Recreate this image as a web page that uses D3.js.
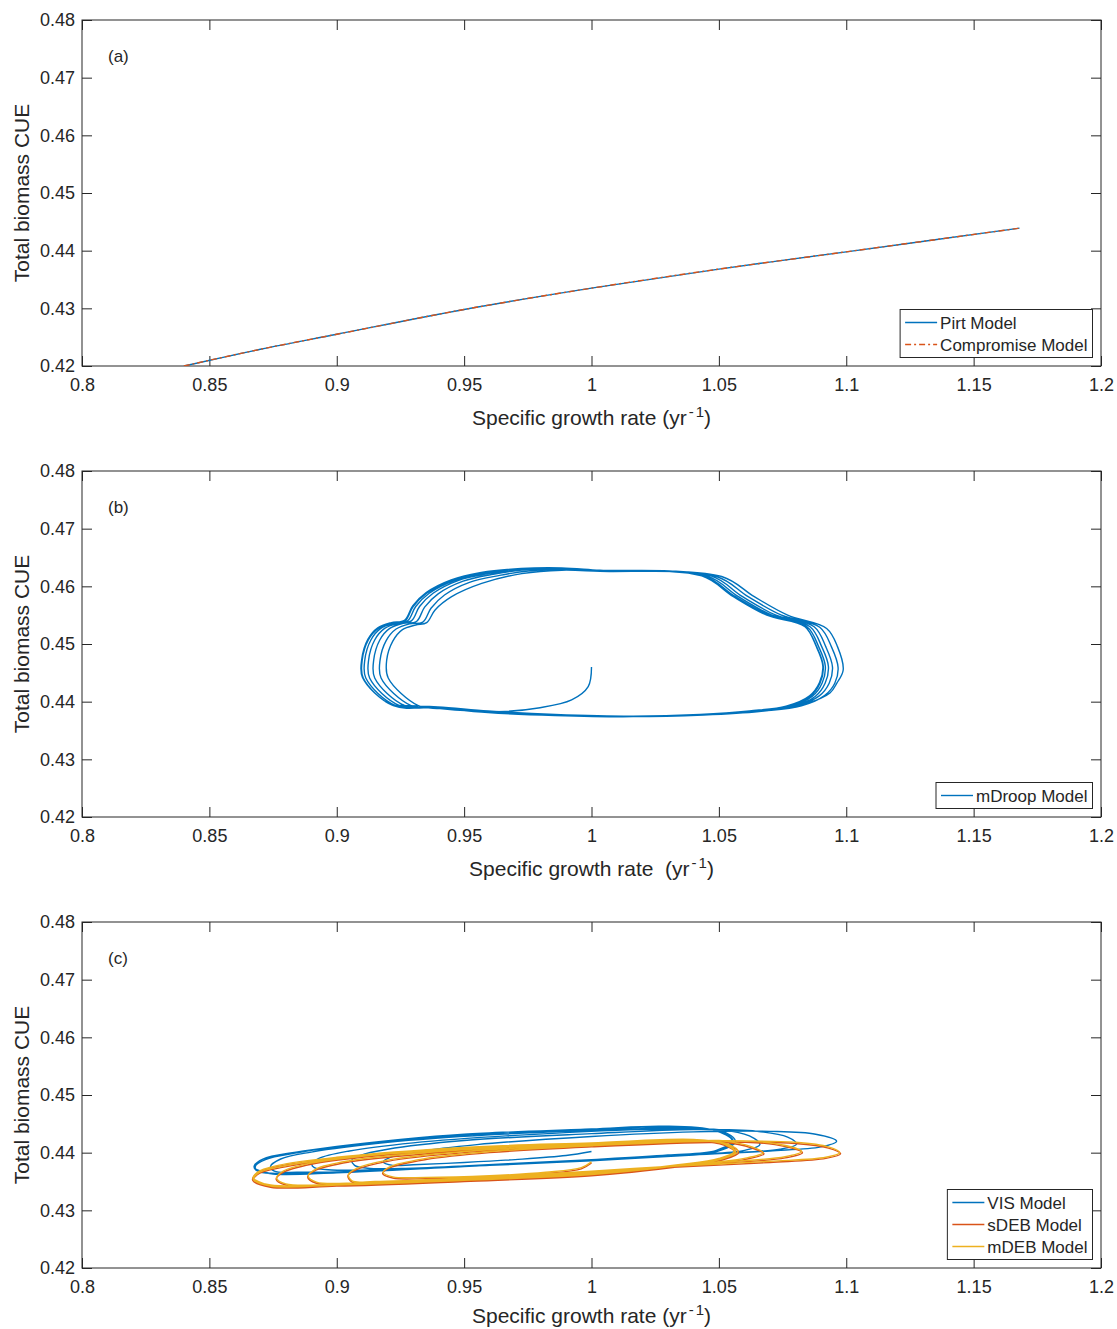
<!DOCTYPE html>
<html>
<head>
  <meta charset="utf-8">
  <style>
    body { margin: 0; background: #fff; }
    svg text { font-family: "Liberation Sans", Arial, Helvetica, sans-serif; fill: #262626; }
    .tick line { stroke: #262626; }
    .domain { display: none; }
  </style>
</head>
<body>
<svg width="1117" height="1329"></svg>
<script src="https://d3js.org/d3.v7.min.js"></script>
<script>

// tick values shared by the three panels
var xTicks = [0.8, 0.85, 0.9, 0.95, 1, 1.05, 1.1, 1.15, 1.2];
var yTicks = [0.42, 0.43, 0.44, 0.45, 0.46, 0.47, 0.48];

// (a) Pirt / Compromise
var pirtX = [0.840, 0.870, 0.900, 0.950, 1.000, 1.050, 1.100, 1.168];
var pirtY = [0.4200, 0.4229, 0.4255, 0.4298, 0.4335, 0.4368, 0.4398, 0.4439];
var compX = [0.840, 0.870, 0.900, 0.950, 1.000, 1.050, 1.100, 1.168];
var compY = [0.4200, 0.4229, 0.4255, 0.4298, 0.4335, 0.4368, 0.4398, 0.4439];

// (b) mDroop trajectory [mu, CUE]
var droop = [
  [1.0000,0.4460],[0.9987,0.4426],[0.9922,0.4403],[0.9791,0.4389],[0.9660,0.4383],[0.9523,0.4384],[0.9405,0.4388],
  [0.9320,0.4393],[0.9202,0.4441],[0.9196,0.4472],[0.9220,0.4505],[0.9258,0.4525],[0.9310,0.4533],[0.9353,0.4537],
  [0.9386,0.4559],[0.9451,0.4582],[0.9569,0.4605],[0.9726,0.4622],[0.9883,0.4628],[1.0033,0.4626],[1.0511,0.4617],
  [1.0639,0.4582],[1.0770,0.4550],[1.0923,0.4527],[1.0966,0.4495],[1.0988,0.4455],[1.0963,0.4432],[1.0936,0.4415],[1.0845,0.4397],
  [1.0700,0.4386],[1.0480,0.4379],[1.0163,0.4374],[0.9857,0.4376],[0.9594,0.4381],[0.9397,0.4389],
  [0.9292,0.4393],[0.9174,0.4441],[0.9170,0.4472],[0.9194,0.4506],[0.9233,0.4526],[0.9286,0.4535],[0.9338,0.4538],
  [0.9370,0.4562],[0.9423,0.4585],[0.9521,0.4607],[0.9639,0.4619],[0.9760,0.4627],[0.9883,0.4630],[1.0033,0.4627],[1.0491,0.4617],
  [1.0615,0.4582],[1.0746,0.4550],[1.0896,0.4529],[1.0942,0.4495],[1.0968,0.4459],[1.0955,0.4432],[1.0916,0.4411],[1.0824,0.4393],
  [1.0680,0.4384],[1.0450,0.4378],[1.0163,0.4374],[0.9857,0.4377],[0.9594,0.4383],[0.9397,0.4390],
  [0.9267,0.4393],[0.9149,0.4441],[0.9145,0.4472],[0.9169,0.4507],[0.9208,0.4527],[0.9261,0.4536],[0.9313,0.4539],
  [0.9345,0.4564],[0.9398,0.4587],[0.9496,0.4609],[0.9614,0.4621],[0.9745,0.4629],[0.9883,0.4631],[1.0033,0.4627],[1.0469,0.4618],
  [1.0593,0.4582],[1.0724,0.4550],[1.0874,0.4530],[1.0920,0.4495],[1.0946,0.4460],[1.0933,0.4432],[1.0894,0.4410],[1.0802,0.4392],
  [1.0658,0.4383],[1.0440,0.4377],[1.0163,0.4374],[0.9857,0.4377],[0.9594,0.4383],[0.9397,0.4390],
  [0.9247,0.4393],[0.9129,0.4441],[0.9125,0.4472],[0.9149,0.4507],[0.9188,0.4527],[0.9241,0.4536],[0.9293,0.4540],
  [0.9325,0.4565],[0.9378,0.4588],[0.9476,0.4610],[0.9594,0.4622],[0.9735,0.4630],[0.9883,0.4631],[1.0033,0.4627],[1.0453,0.4618],
  [1.0577,0.4582],[1.0708,0.4550],[1.0858,0.4530],[1.0904,0.4495],[1.0930,0.4461],[1.0917,0.4432],[1.0878,0.4409],[1.0786,0.4391],
  [1.0642,0.4383],[1.0430,0.4377],[1.0163,0.4374],[0.9857,0.4377],[0.9594,0.4383],[0.9397,0.4390],
  [0.9232,0.4393],[0.9114,0.4441],[0.9110,0.4472],[0.9134,0.4507],[0.9173,0.4527],[0.9226,0.4536],[0.9278,0.4540],
  [0.9310,0.4565],[0.9363,0.4588],[0.9461,0.4610],[0.9579,0.4623],[0.9730,0.4630],[0.9883,0.4631],[1.0033,0.4627],[1.0441,0.4618],
  [1.0565,0.4582],[1.0696,0.4550],[1.0846,0.4530],[1.0892,0.4495],[1.0918,0.4461],[1.0905,0.4432],[1.0866,0.4409],[1.0774,0.4391],
  [1.0630,0.4383],[1.0426,0.4377],[1.0163,0.4374],[0.9857,0.4377],[0.9594,0.4383],[0.9397,0.4390],
  [0.9222,0.4393],[0.9104,0.4441],[0.9100,0.4472],[0.9124,0.4507],[0.9163,0.4527],[0.9216,0.4536],[0.9268,0.4540],
  [0.9300,0.4565],[0.9353,0.4588],[0.9451,0.4610],[0.9569,0.4623],[0.9726,0.4630],[0.9883,0.4631],[1.0033,0.4627],[1.0433,0.4618],
  [1.0557,0.4582],[1.0688,0.4550],[1.0838,0.4530],[1.0884,0.4495],[1.0910,0.4461],[1.0897,0.4432],[1.0858,0.4409],[1.0766,0.4391],
  [1.0622,0.4383],[1.0426,0.4377],[1.0163,0.4374],[0.9857,0.4377],[0.9594,0.4383],[0.9397,0.4390],
  [0.9218,0.4394],[0.9101,0.4442],[0.9098,0.4473],[0.9122,0.4508],[0.9161,0.4528],[0.9214,0.4537],[0.9266,0.4541],
  [0.9298,0.4566],[0.9351,0.4589],[0.9449,0.4611],[0.9567,0.4624],[0.9724,0.4631],[0.9883,0.4632],[1.0033,0.4628],[1.0431,0.4619],
  [1.0555,0.4583],[1.0686,0.4551],[1.0836,0.4531],[1.0882,0.4496],[1.0908,0.4462],[1.0895,0.4433],[1.0856,0.4410],[1.0764,0.4392],
  [1.0620,0.4384],[1.0426,0.4378],[1.0163,0.4375],[0.9857,0.4378],[0.9594,0.4384],[0.9397,0.4391],[0.9220,0.4394]
];

// (c) VIS, sDEB, mDEB trajectories [mu, CUE]
var vis = [
  [1.000,0.4402],[0.990,0.4395],[0.970,0.4388],[0.950,0.4383],[0.930,0.4379],
  [0.922,0.4378],[0.9183,0.4384],[0.921,0.4392],[0.932,0.4402],[0.955,0.4414],[1.000,0.4428],[1.040,0.4436],[1.070,0.4437],[1.088,0.4432],[1.0962,0.4420],[1.090,0.4410],[1.070,0.4403],[1.040,0.4396],[1.000,0.4386],[0.960,0.4378],[0.930,0.4373],[0.912,0.4373],
  [0.9070,0.4378],[0.9059,0.4387],[0.909,0.4395],[0.920,0.4406],[0.950,0.4421],[1.000,0.4433],[1.040,0.4440],[1.065,0.4437],[1.077,0.4427],[1.0805,0.4415],[1.074,0.4406],[1.050,0.4399],[1.000,0.4387],[0.950,0.4377],[0.920,0.4371],[0.898,0.4370],
  [0.8912,0.4374],[0.8902,0.4380],[0.893,0.4390],[0.905,0.4403],[0.930,0.4417],[0.970,0.4430],[1.020,0.4440],[1.050,0.4440],[1.062,0.4429],[1.0661,0.4414],[1.060,0.4404],[1.040,0.4397],[1.000,0.4387],[0.950,0.4376],[0.910,0.4368],[0.885,0.4366],
  [0.8755,0.4368],[0.8740,0.4376],[0.878,0.4389],[0.890,0.4401],[0.920,0.4418],[0.960,0.4431],[1.010,0.4440],[1.040,0.4443],[1.053,0.4434],[1.0565,0.4419],[1.050,0.4403],[1.030,0.4395],[1.000,0.4387],[0.950,0.4376],[0.900,0.4366],[0.876,0.4364],
  [0.8690,0.4368],[0.8680,0.4376],[0.872,0.4388],[0.885,0.4400],[0.900,0.4410],[0.925,0.4422],[0.950,0.4431],[1.000,0.4440],[1.030,0.4445],[1.049,0.4438],[1.0556,0.4420],[1.050,0.4403],[1.030,0.4395],[1.000,0.4387],[0.950,0.4376],[0.900,0.4365],[0.875,0.4363],
  [0.8682,0.4370],[0.8676,0.4377],[0.871,0.4389],[0.884,0.4401],[0.900,0.4411],[0.925,0.4423],[0.950,0.4432],[1.000,0.4441],[1.028,0.4446],[1.048,0.4439],[1.0552,0.4421],[1.049,0.4404],[1.030,0.4396],[1.000,0.4388],[0.950,0.4377],[0.900,0.4366],[0.874,0.4364],[0.8678,0.4372]
];
var sdeb = [
  [1.000,0.4382],[0.996,0.4372],[0.982,0.4364],[0.960,0.4358],[0.935,0.4355],
  [0.922,0.4356],[0.9180,0.4364],[0.921,0.4374],[0.935,0.4388],[0.960,0.4400],[1.000,0.4410],[1.050,0.4418],[1.080,0.4416],[1.093,0.4408],[1.0978,0.4398],[1.092,0.4390],[1.070,0.4383],[1.030,0.4374],[1.000,0.4366],[0.950,0.4354],[0.915,0.4348],[0.906,0.4349],
  [0.9044,0.4360],[0.908,0.4371],[0.920,0.4385],[0.950,0.4400],[1.000,0.4412],[1.050,0.4419],[1.072,0.4414],[1.0828,0.4400],[1.076,0.4391],[1.050,0.4381],[1.000,0.4364],[0.950,0.4353],[0.910,0.4346],[0.892,0.4347],
  [0.8886,0.4358],[0.892,0.4370],[0.905,0.4384],[0.930,0.4396],[0.970,0.4408],[1.020,0.4416],[1.052,0.4418],[1.063,0.4408],[1.0677,0.4398],[1.060,0.4388],[1.040,0.4378],[1.000,0.4362],[0.950,0.4351],[0.900,0.4343],[0.880,0.4344],
  [0.8762,0.4354],[0.879,0.4366],[0.890,0.4380],[0.915,0.4394],[0.950,0.4404],[1.000,0.4414],[1.040,0.4420],[1.054,0.4412],[1.0578,0.4400],[1.052,0.4388],[1.035,0.4376],[1.000,0.4360],[0.950,0.4350],[0.900,0.4342],[0.874,0.4342],
  [0.8673,0.4351],[0.8688,0.4362],[0.878,0.4374],[0.900,0.4388],[0.950,0.4406],[1.000,0.4414],[1.040,0.4420],[1.053,0.4412],[1.0568,0.4399],[1.051,0.4387],[1.035,0.4376],[1.000,0.4360],[0.950,0.4350],[0.900,0.4342],[0.874,0.4340],
  [0.8670,0.4352],[0.8686,0.4364],[0.877,0.4376],[0.900,0.4390],[0.950,0.4407],[1.000,0.4415],[1.040,0.4421],[1.052,0.4413],[1.0563,0.4400],[1.050,0.4388],[1.034,0.4377],[1.000,0.4361],[0.950,0.4351],[0.900,0.4343],[0.874,0.4341],[0.8668,0.4353]
];
var mdeb = [
  [1.000,0.4384],[0.996,0.4374],[0.982,0.4366],[0.960,0.4360],[0.935,0.4357],
  [0.922,0.4358],[0.9182,0.4366],[0.921,0.4376],[0.935,0.4390],[0.960,0.4402],[1.000,0.4412],[1.050,0.4420],[1.080,0.4418],[1.093,0.4410],[1.0975,0.4400],[1.092,0.4392],[1.070,0.4385],[1.030,0.4376],[1.000,0.4368],[0.950,0.4356],[0.915,0.4350],[0.906,0.4351],
  [0.9046,0.4362],[0.908,0.4373],[0.920,0.4387],[0.950,0.4402],[1.000,0.4414],[1.050,0.4421],[1.072,0.4416],[1.0825,0.4402],[1.076,0.4393],[1.050,0.4383],[1.000,0.4366],[0.950,0.4355],[0.910,0.4348],[0.892,0.4349],
  [0.8888,0.4360],[0.892,0.4372],[0.905,0.4386],[0.930,0.4398],[0.970,0.4410],[1.020,0.4418],[1.052,0.4420],[1.063,0.4410],[1.0674,0.4400],[1.060,0.4390],[1.040,0.4380],[1.000,0.4364],[0.950,0.4353],[0.900,0.4345],[0.880,0.4346],
  [0.8764,0.4356],[0.879,0.4368],[0.890,0.4382],[0.915,0.4396],[0.950,0.4406],[1.000,0.4416],[1.040,0.4422],[1.054,0.4414],[1.0575,0.4402],[1.052,0.4390],[1.035,0.4378],[1.000,0.4362],[0.950,0.4352],[0.900,0.4344],[0.874,0.4344],
  [0.8675,0.4353],[0.8690,0.4364],[0.878,0.4376],[0.900,0.4390],[0.950,0.4408],[1.000,0.4416],[1.040,0.4422],[1.053,0.4414],[1.0565,0.4401],[1.051,0.4389],[1.035,0.4378],[1.000,0.4362],[0.950,0.4352],[0.900,0.4344],[0.874,0.4342],
  [0.8672,0.4354],[0.8688,0.4366],[0.877,0.4378],[0.900,0.4392],[0.950,0.4409],[1.000,0.4417],[1.040,0.4423],[1.052,0.4415],[1.0560,0.4402],[1.050,0.4390],[1.034,0.4379],[1.000,0.4363],[0.950,0.4353],[0.900,0.4345],[0.874,0.4343],[0.8670,0.4355]
];

var blue = "#0072BD", orange = "#D95319", yellow = "#EDB120";

var svg = d3.select("svg");
var left = 82, right = 1101, ph = 346;

var x = d3.scaleLinear().domain([0.8, 1.2]).range([left, right]);

function drawPanel(top, tag, series, legendKeys, xlabelGap, xlabelOff) {
  var y = d3.scaleLinear().domain([0.42, 0.48]).range([top + ph, top]);
  var g = svg.append("g");
  var clipId = "clip" + tag;

  g.append("clipPath").attr("id", clipId)
    .append("rect").attr("x", left).attr("y", top).attr("width", right - left).attr("height", ph);

  g.append("g")
    .attr("transform", "translate(0," + (top + ph) + ")")
    .call(d3.axisBottom(x).tickValues(xTicks).tickSizeInner(-10).tickSizeOuter(0).tickPadding(12)
      .tickFormat(function(d) { return String(+d.toFixed(2)); }))
    .selectAll("text").attr("font-size", 18);

  g.append("g")
    .attr("transform", "translate(0," + top + ")")
    .call(d3.axisTop(x).tickValues(xTicks).tickSizeInner(-10).tickSizeOuter(0).tickFormat(""));

  g.append("g")
    .attr("transform", "translate(" + left + ",0)")
    .call(d3.axisLeft(y).tickValues(yTicks).tickSizeInner(-10).tickSizeOuter(0).tickPadding(7)
      .tickFormat(d3.format(".2f")))
    .selectAll("text").attr("font-size", 18);

  g.append("g")
    .attr("transform", "translate(" + right + ",0)")
    .call(d3.axisRight(y).tickValues(yTicks).tickSizeInner(-10).tickSizeOuter(0).tickFormat(""));

  g.selectAll(".tick line").attr("stroke", "#262626");

  g.append("rect")
    .attr("x", left).attr("y", top).attr("width", right - left).attr("height", ph)
    .attr("fill", "none").attr("stroke", "#262626").attr("stroke-width", 1);

  var line = d3.line()
    .x(function(d) { return x(d[0]); })
    .y(function(d) { return y(d[1]); })
    .curve(d3.curveCatmullRom.alpha(0.5));

  var plot = g.append("g").attr("clip-path", "url(#" + clipId + ")");
  series.forEach(function(s) {
    plot.append("path")
      .datum(s.pts)
      .attr("fill", "none")
      .attr("stroke", s.color)
      .attr("stroke-width", 1.4)
      .attr("stroke-dasharray", s.dash || null)
      .attr("d", line);
  });

  // panel letter
  g.append("text").attr("x", 108).attr("y", top + 42).attr("font-size", 17).text("(" + tag + ")");

  // axis titles
  g.append("text")
    .attr("transform", "translate(29," + (top + ph / 2) + ") rotate(-90)")
    .attr("text-anchor", "middle").attr("font-size", 21)
    .text("Total biomass CUE");

  var xl = g.append("text")
    .attr("x", (left + right) / 2).attr("y", top + ph + xlabelOff)
    .attr("text-anchor", "middle").attr("font-size", 21);
  xl.append("tspan").text("Specific growth rate" + xlabelGap + "(yr");
  xl.append("tspan").attr("dy", -8).attr("dx", 2).attr("font-size", 15).text("-");
  xl.append("tspan").attr("dx", 2).attr("font-size", 15).text("1");
  xl.append("tspan").attr("dy", 8).text(")");

  // legend
  var rowH = 22;
  var n = legendKeys.length;
  var boxBottom = top + ph - 8.5, boxTop = boxBottom - n * rowH - 4;
  var lg = g.append("g");
  var box = lg.append("rect").attr("y", boxTop).attr("height", boxBottom - boxTop)
    .attr("fill", "#fff").attr("stroke", "#262626").attr("stroke-width", 1);
  var items = lg.selectAll("g.item").data(legendKeys).enter().append("g").attr("class", "item");
  var texts = items.append("text")
    .attr("font-size", 17)
    .attr("y", function(d, i) { return boxTop + 13 + i * rowH + 6; })
    .text(function(d) { return d.name; });
  var tw = d3.max(texts.nodes(), function(t) { return t.getComputedTextLength(); });
  var bx = 1092.5 - (tw + 45);
  box.attr("x", bx).attr("width", tw + 45);
  texts.attr("x", bx + 40);
  items.append("line")
    .attr("x1", bx + 5).attr("x2", bx + 37)
    .attr("y1", function(d, i) { return boxTop + 13 + i * rowH; })
    .attr("y2", function(d, i) { return boxTop + 13 + i * rowH; })
    .attr("stroke", function(d) { return d.color; })
    .attr("stroke-width", 1.4)
    .attr("stroke-dasharray", function(d) { return d.dash || null; });
}

var pirtPts = pirtX.map(function(v, i) { return [v, pirtY[i]]; });
var compPts = compX.map(function(v, i) { return [v, compY[i]]; });

drawPanel(20, "a",
  [{pts: pirtPts, color: blue}, {pts: compPts, color: orange, dash: "6,3,2,3"}],
  [{name: "Pirt Model", color: blue}, {name: "Compromise Model", color: orange, dash: "6,3,2,3"}], " ", 59);

drawPanel(471, "b",
  [{pts: droop, color: blue}],
  [{name: "mDroop Model", color: blue}], "\u00a0 ", 59);

drawPanel(922, "c",
  [{pts: vis, color: blue}, {pts: sdeb, color: orange}, {pts: mdeb, color: yellow}],
  [{name: "VIS Model", color: blue}, {name: "sDEB Model", color: orange}, {name: "mDEB Model", color: yellow}], " ", 55);

</script>
</body>
</html>
